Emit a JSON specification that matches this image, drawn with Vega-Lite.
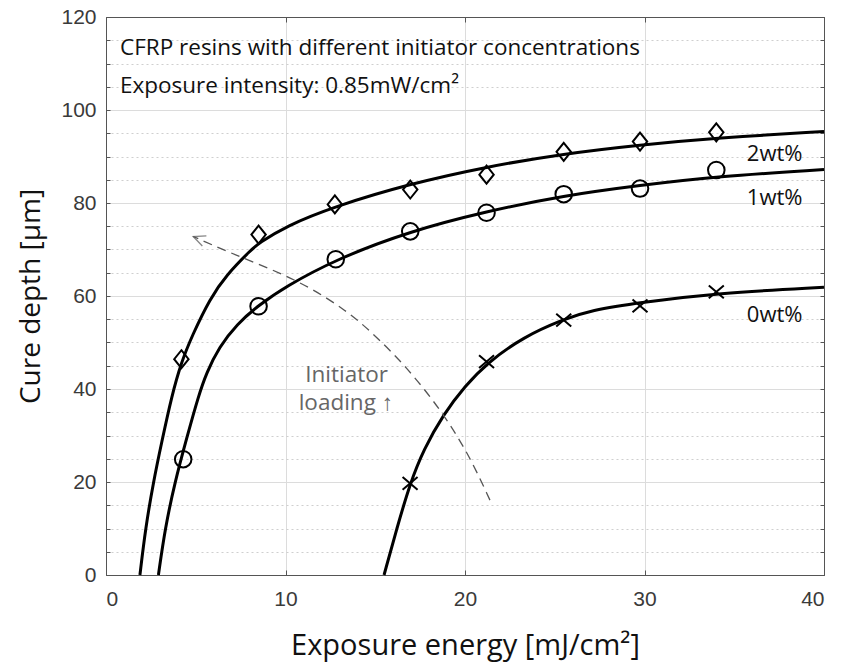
{
  "$schema": "https://vega.github.io/schema/vega-lite/v6.json",
  "width": 718,
  "height": 558,
  "autosize": "none",
  "padding": {"left": 106, "top": 17, "right": 17, "bottom": 94},
  "background": "white",
  "datasets": {
    "curves": [
      {"series": "2wt%", "E": 1.89, "D": 0}, {"series": "2wt%", "E": 2.2, "D": 10}, {"series": "2wt%", "E": 2.64, "D": 20},
      {"series": "2wt%", "E": 3.1, "D": 28.5}, {"series": "2wt%", "E": 3.66, "D": 38.5}, {"series": "2wt%", "E": 4.2, "D": 45.8},
      {"series": "2wt%", "E": 4.8, "D": 51.5}, {"series": "2wt%", "E": 5.8, "D": 59.5}, {"series": "2wt%", "E": 6.7, "D": 64.5},
      {"series": "2wt%", "E": 8.1, "D": 70}, {"series": "2wt%", "E": 8.5, "D": 71.3}, {"series": "2wt%", "E": 10, "D": 75},
      {"series": "2wt%", "E": 12.76, "D": 79.3}, {"series": "2wt%", "E": 16.9, "D": 84.1}, {"series": "2wt%", "E": 21.2, "D": 87.8},
      {"series": "2wt%", "E": 25.5, "D": 90.6}, {"series": "2wt%", "E": 29.75, "D": 92.5}, {"series": "2wt%", "E": 34, "D": 94.0},
      {"series": "2wt%", "E": 40, "D": 95.4},
      {"series": "1wt%", "E": 2.92, "D": 0}, {"series": "1wt%", "E": 3.29, "D": 10}, {"series": "1wt%", "E": 3.84, "D": 20},
      {"series": "1wt%", "E": 4.5, "D": 29.5}, {"series": "1wt%", "E": 5.15, "D": 38.5}, {"series": "1wt%", "E": 5.6, "D": 43.5},
      {"series": "1wt%", "E": 6.3, "D": 49}, {"series": "1wt%", "E": 7.3, "D": 54}, {"series": "1wt%", "E": 8.5, "D": 58},
      {"series": "1wt%", "E": 10, "D": 62}, {"series": "1wt%", "E": 12.76, "D": 67.8}, {"series": "1wt%", "E": 16.9, "D": 73.9},
      {"series": "1wt%", "E": 21.2, "D": 78.2}, {"series": "1wt%", "E": 25.5, "D": 81.6}, {"series": "1wt%", "E": 29.75, "D": 83.8},
      {"series": "1wt%", "E": 34, "D": 85.7}, {"series": "1wt%", "E": 40, "D": 87.2},
      {"series": "0wt%", "E": 15.49, "D": 0}, {"series": "0wt%", "E": 16.2, "D": 10}, {"series": "0wt%", "E": 16.94, "D": 19.7},
      {"series": "0wt%", "E": 17.7, "D": 27}, {"series": "0wt%", "E": 18.8, "D": 34.6}, {"series": "0wt%", "E": 20, "D": 40.6},
      {"series": "0wt%", "E": 21.2, "D": 45.5}, {"series": "0wt%", "E": 23.25, "D": 51.2}, {"series": "0wt%", "E": 25.5, "D": 55.0},
      {"series": "0wt%", "E": 27, "D": 56.9}, {"series": "0wt%", "E": 29.75, "D": 58.6}, {"series": "0wt%", "E": 34, "D": 60.6},
      {"series": "0wt%", "E": 40, "D": 61.9}
    ],
    "points": [
      {"series": "2wt%", "E": 4.2, "D": 46.4}, {"series": "2wt%", "E": 8.5, "D": 73.2}, {"series": "2wt%", "E": 12.75, "D": 79.7},
      {"series": "2wt%", "E": 16.95, "D": 82.9}, {"series": "2wt%", "E": 21.2, "D": 86.1}, {"series": "2wt%", "E": 25.5, "D": 91.0},
      {"series": "2wt%", "E": 29.75, "D": 93.2}, {"series": "2wt%", "E": 34, "D": 95.2},
      {"series": "1wt%", "E": 4.3, "D": 24.9}, {"series": "1wt%", "E": 8.5, "D": 57.8}, {"series": "1wt%", "E": 12.8, "D": 67.9},
      {"series": "1wt%", "E": 16.95, "D": 73.9}, {"series": "1wt%", "E": 21.2, "D": 77.9}, {"series": "1wt%", "E": 25.5, "D": 81.9},
      {"series": "1wt%", "E": 29.75, "D": 83.1}, {"series": "1wt%", "E": 34, "D": 87.1},
      {"series": "0wt%", "E": 16.94, "D": 19.7}, {"series": "0wt%", "E": 21.2, "D": 45.9}, {"series": "0wt%", "E": 25.5, "D": 54.8},
      {"series": "0wt%", "E": 29.75, "D": 57.9}, {"series": "0wt%", "E": 34, "D": 60.9}
    ],
    "arrow": [
      {"i": 1, "E": 21.39, "D": 16.1}, {"i": 2, "E": 20.28, "D": 25.4}, {"i": 3, "E": 18.79, "D": 34.8},
      {"i": 4, "E": 16.75, "D": 44.8}, {"i": 5, "E": 14.7, "D": 52.6}, {"i": 6, "E": 13.4, "D": 56.8},
      {"i": 7, "E": 11.37, "D": 61.9}, {"i": 8, "E": 9.14, "D": 65.9}, {"i": 9, "E": 6.9, "D": 69.3},
      {"i": 10, "E": 4.86, "D": 72.8}
    ],
    "arrowhead": [{"E": 4.86, "D": 72.8}],
    "notes": [
      {"E": 0.78, "D": 111.8, "text": "CFRP resins with different initiator concentrations"},
      {"E": 0.78, "D": 103.7, "text": "Exposure intensity: 0.85mW/cm²"}
    ],
    "serieslabels": [
      {"E": 35.7, "D": 89.0, "text": "2wt%"},
      {"E": 35.7, "D": 79.6, "text": "1wt%"},
      {"E": 35.7, "D": 54.5, "text": "0wt%"}
    ],
    "initiator": [
      {"E": 13.4, "D": 41.6, "text": "Initiator"},
      {"E": 13.36, "D": 35.5, "text": "loading ↑"}
    ]
  },
  "config": {
    "view": {"stroke": "#555", "strokeWidth": 1},
    "axis": {
      "domainColor": "#555",
      "tickColor": "#555",
      "labelColor": "#3a3a3a",
      "labelFont": "Liberation Sans",
      "labelFontSize": 21,
      "titleFont": "Open Sans",
      "titleFontWeight": "normal",
      "titleColor": "#111"
    }
  },
  "layer": [
    {
      "data": {"name": "curves"},
      "mark": {"type": "line", "color": "black", "strokeWidth": 3, "interpolate": "basis"},
      "encoding": {
        "x": {
          "field": "E", "type": "quantitative",
          "scale": {"domain": [0, 40], "nice": false, "zero": false},
          "axis": {
            "orient": "bottom", "values": [0, 10, 20, 30, 40], "grid": true, "gridColor": "#dcdcdc",
            "tickSize": -5, "labelPadding": 18, "title": "Exposure energy [mJ/cm²]", "titleFontSize": 29, "titlePadding": 22
          }
        },
        "y": {
          "field": "D", "type": "quantitative",
          "scale": {"domain": [0, 120], "nice": false, "zero": false},
          "axis": {
            "orient": "left",
            "values": [0, 5, 10, 15, 20, 25, 30, 35, 40, 45, 50, 55, 60, 65, 70, 75, 80, 85, 90, 95, 100, 105, 110, 115, 120],
            "labelExpr": "datum.value % 20 === 0 ? datum.label : ''",
            "grid": true,
            "gridColor": {"condition": {"test": "datum.value % 20 === 0", "value": "#dcdcdc"}, "value": "#cfcfcf"},
            "gridDash": {"condition": {"test": "datum.value % 20 === 0", "value": []}, "value": [2, 3]},
            "tickSize": -4, "labelPadding": 14, "title": "Cure depth [µm]", "titleFontSize": 28, "titlePadding": 15
          }
        },
        "detail": {"field": "series"}
      }
    },
    {
      "data": {"name": "arrow"},
      "mark": {"type": "line", "color": "#555", "strokeWidth": 1.3, "strokeDash": [9, 6], "interpolate": "basis"},
      "encoding": {
        "x": {"field": "E", "type": "quantitative", "axis": null},
        "y": {"field": "D", "type": "quantitative", "axis": null},
        "order": {"field": "i", "type": "quantitative"}
      }
    },
    {
      "data": {"name": "arrowhead"},
      "mark": {"type": "point", "shape": "M1,-0.45L0,0L1,0.45", "filled": false, "stroke": "#555", "strokeWidth": 1.3, "size": 576, "angle": 22},
      "encoding": {
        "x": {"field": "E", "type": "quantitative", "axis": null},
        "y": {"field": "D", "type": "quantitative", "axis": null}
      }
    },
    {
      "data": {"name": "points"},
      "mark": {"type": "point", "filled": false, "stroke": "black", "strokeWidth": 2, "opacity": 1},
      "encoding": {
        "x": {
          "field": "E", "type": "quantitative",
          "axis": {"orient": "top", "values": [0, 10, 20, 30, 40], "labels": false, "grid": false, "tickSize": -5, "title": null}
        },
        "y": {
          "field": "D", "type": "quantitative",
          "axis": {
            "orient": "right",
            "values": [0, 5, 10, 15, 20, 25, 30, 35, 40, 45, 50, 55, 60, 65, 70, 75, 80, 85, 90, 95, 100, 105, 110, 115, 120],
            "labels": false, "grid": false, "tickSize": -4, "title": null
          }
        },
        "shape": {
          "field": "series", "type": "nominal",
          "scale": {"domain": ["2wt%", "1wt%", "0wt%"], "range": ["M0,-1L0.8,0L0,1L-0.8,0Z", "circle", "M-1,-0.85L1,0.85M-1,0.85L1,-0.85"]},
          "legend": null
        },
        "size": {
          "field": "series", "type": "nominal",
          "scale": {"domain": ["2wt%", "1wt%", "0wt%"], "range": [324, 225, 144]},
          "legend": null
        }
      }
    },
    {
      "data": {"name": "notes"},
      "mark": {"type": "text", "align": "left", "baseline": "alphabetic", "font": "Open Sans", "fontSize": 22.5, "color": "#111"},
      "encoding": {
        "x": {"field": "E", "type": "quantitative", "axis": null},
        "y": {"field": "D", "type": "quantitative", "axis": null},
        "text": {"field": "text"}
      }
    },
    {
      "data": {"name": "serieslabels"},
      "mark": {"type": "text", "align": "left", "baseline": "alphabetic", "font": "Open Sans", "fontSize": 22, "color": "#111"},
      "encoding": {
        "x": {"field": "E", "type": "quantitative", "axis": null},
        "y": {"field": "D", "type": "quantitative", "axis": null},
        "text": {"field": "text"}
      }
    },
    {
      "data": {"name": "initiator"},
      "mark": {"type": "text", "align": "center", "baseline": "alphabetic", "font": "Open Sans", "fontSize": 22.5, "color": "#666"},
      "encoding": {
        "x": {"field": "E", "type": "quantitative", "axis": null},
        "y": {"field": "D", "type": "quantitative", "axis": null},
        "text": {"field": "text"}
      }
    }
  ],
  "resolve": {"axis": {"x": "independent", "y": "independent"}}
}
